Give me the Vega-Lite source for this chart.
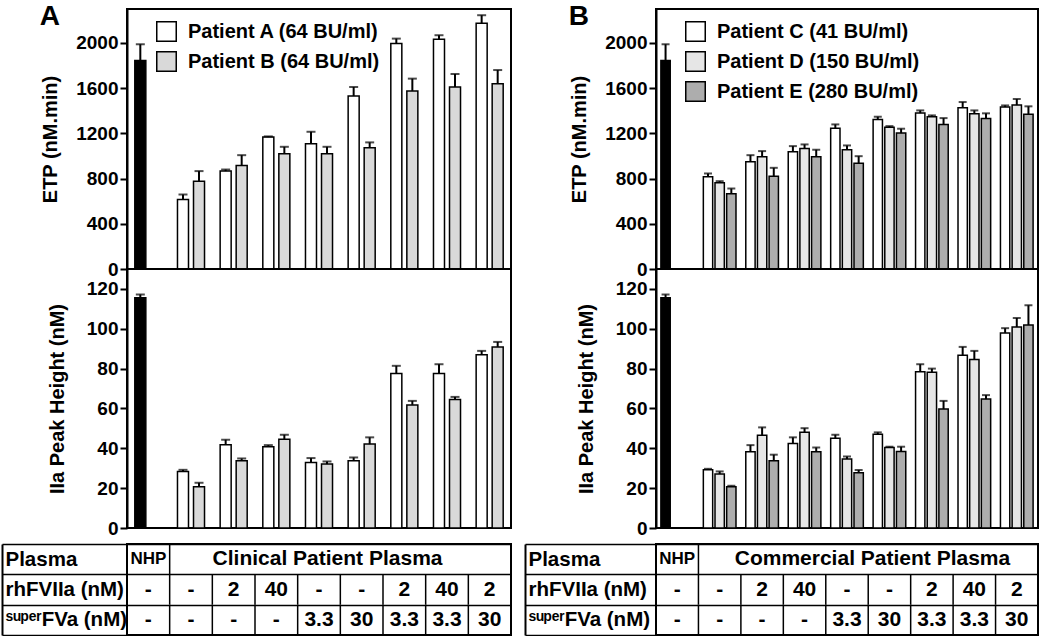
{
  "$schema": "https://vega.github.io/schema/vega-lite/v6.json",
  "padding": {"left": 0, "top": 2, "right": 0, "bottom": 0},
  "background": "white",
  "config": {
    "font": "Liberation Sans",
    "view": {"stroke": "black", "strokeWidth": 2},
    "axis": {"labelFont": "Liberation Sans", "labelFontSize": 19, "labelFontWeight": "bold", "labelColor": "black", "titleFont": "Liberation Sans", "titleFontSize": 20, "titleFontWeight": "bold", "titleColor": "black", "tickColor": "black", "tickSize": 7, "tickWidth": 2, "domainColor": "black", "domainWidth": 2, "labelPadding": 2, "grid": false},
    "legend": {"orient": "none", "symbolType": "square", "symbolSize": 380, "symbolStrokeColor": "black", "symbolStrokeWidth": 1.5, "labelFont": "Liberation Sans", "labelFontSize": 20, "labelFontWeight": "bold", "labelColor": "black", "labelOffset": 11, "rowPadding": 3, "padding": 0, "labelLimit": 400},
    "title": {"font": "Liberation Sans", "fontSize": 28, "fontWeight": "bold", "color": "black"}
  },
  "datasets": {
    "A": [
      {"cond": "NHP", "patient": "NHP", "etp": 1845, "etpHi": 1988, "ph": 115.6, "phHi": 117.2},
      {"cond": "-/-", "patient": "Patient A (64 BU/ml)", "etp": 614, "etpHi": 659, "ph": 28.4, "phHi": 29.2},
      {"cond": "-/-", "patient": "Patient B (64 BU/ml)", "etp": 777, "etpHi": 866, "ph": 20.7, "phHi": 22.7},
      {"cond": "2/-", "patient": "Patient A (64 BU/ml)", "etp": 866, "etpHi": 880, "ph": 41.8, "phHi": 44.3},
      {"cond": "2/-", "patient": "Patient B (64 BU/ml)", "etp": 916, "etpHi": 1007, "ph": 33.8, "phHi": 34.9},
      {"cond": "40/-", "patient": "Patient A (64 BU/ml)", "etp": 1167, "etpHi": 1173, "ph": 40.8, "phHi": 41.6},
      {"cond": "40/-", "patient": "Patient B (64 BU/ml)", "etp": 1019, "etpHi": 1081, "ph": 44.6, "phHi": 46.8},
      {"cond": "-/3.3", "patient": "Patient A (64 BU/ml)", "etp": 1108, "etpHi": 1214, "ph": 32.9, "phHi": 35.1},
      {"cond": "-/3.3", "patient": "Patient B (64 BU/ml)", "etp": 1019, "etpHi": 1081, "ph": 32.1, "phHi": 33.4},
      {"cond": "-/30", "patient": "Patient A (64 BU/ml)", "etp": 1530, "etpHi": 1610, "ph": 33.8, "phHi": 35.4},
      {"cond": "-/30", "patient": "Patient B (64 BU/ml)", "etp": 1072, "etpHi": 1120, "ph": 42.1, "phHi": 45.5},
      {"cond": "2/3.3", "patient": "Patient A (64 BU/ml)", "etp": 1994, "etpHi": 2038, "ph": 77.5, "phHi": 81.4},
      {"cond": "2/3.3", "patient": "Patient B (64 BU/ml)", "etp": 1575, "etpHi": 1684, "ph": 61.8, "phHi": 63.8},
      {"cond": "40/3.3", "patient": "Patient A (64 BU/ml)", "etp": 2032, "etpHi": 2068, "ph": 77.5, "phHi": 82.2},
      {"cond": "40/3.3", "patient": "Patient B (64 BU/ml)", "etp": 1610, "etpHi": 1725, "ph": 64.5, "phHi": 65.8},
      {"cond": "2/30", "patient": "Patient A (64 BU/ml)", "etp": 2174, "etpHi": 2245, "ph": 86.9, "phHi": 88.9},
      {"cond": "2/30", "patient": "Patient B (64 BU/ml)", "etp": 1639, "etpHi": 1760, "ph": 90.9, "phHi": 93.4}
    ],
    "B": [
      {"cond": "NHP", "patient": "NHP", "etp": 1845, "etpHi": 1988, "ph": 115.6, "phHi": 117.2},
      {"cond": "-/-", "patient": "Patient C (41 BU/ml)", "etp": 815, "etpHi": 845, "ph": 29.2, "phHi": 29.7},
      {"cond": "-/-", "patient": "Patient D (150 BU/ml)", "etp": 762, "etpHi": 777, "ph": 27.1, "phHi": 28.4},
      {"cond": "-/-", "patient": "Patient E (280 BU/ml)", "etp": 665, "etpHi": 712, "ph": 20.7, "phHi": 21.2},
      {"cond": "2/-", "patient": "Patient C (41 BU/ml)", "etp": 948, "etpHi": 1007, "ph": 38.3, "phHi": 41.6},
      {"cond": "2/-", "patient": "Patient D (150 BU/ml)", "etp": 993, "etpHi": 1043, "ph": 46.6, "phHi": 50.5},
      {"cond": "2/-", "patient": "Patient E (280 BU/ml)", "etp": 821, "etpHi": 895, "ph": 33.8, "phHi": 36.8},
      {"cond": "40/-", "patient": "Patient C (41 BU/ml)", "etp": 1037, "etpHi": 1087, "ph": 42.4, "phHi": 45.5},
      {"cond": "40/-", "patient": "Patient D (150 BU/ml)", "etp": 1066, "etpHi": 1102, "ph": 48.0, "phHi": 50.1},
      {"cond": "40/-", "patient": "Patient E (280 BU/ml)", "etp": 993, "etpHi": 1055, "ph": 38.3, "phHi": 40.4},
      {"cond": "-/3.3", "patient": "Patient C (41 BU/ml)", "etp": 1244, "etpHi": 1279, "ph": 45.1, "phHi": 46.8},
      {"cond": "-/3.3", "patient": "Patient D (150 BU/ml)", "etp": 1055, "etpHi": 1093, "ph": 34.6, "phHi": 35.9},
      {"cond": "-/3.3", "patient": "Patient E (280 BU/ml)", "etp": 936, "etpHi": 998, "ph": 27.7, "phHi": 29.1},
      {"cond": "-/30", "patient": "Patient C (41 BU/ml)", "etp": 1323, "etpHi": 1347, "ph": 47.1, "phHi": 48.0},
      {"cond": "-/30", "patient": "Patient D (150 BU/ml)", "etp": 1255, "etpHi": 1264, "ph": 40.4, "phHi": 40.8},
      {"cond": "-/30", "patient": "Patient E (280 BU/ml)", "etp": 1202, "etpHi": 1241, "ph": 38.4, "phHi": 40.8},
      {"cond": "2/3.3", "patient": "Patient C (41 BU/ml)", "etp": 1379, "etpHi": 1403, "ph": 78.4, "phHi": 82.2},
      {"cond": "2/3.3", "patient": "Patient D (150 BU/ml)", "etp": 1347, "etpHi": 1359, "ph": 78.2, "phHi": 80.0},
      {"cond": "2/3.3", "patient": "Patient E (280 BU/ml)", "etp": 1279, "etpHi": 1335, "ph": 59.7, "phHi": 63.8},
      {"cond": "40/3.3", "patient": "Patient C (41 BU/ml)", "etp": 1427, "etpHi": 1477, "ph": 86.7, "phHi": 90.9},
      {"cond": "40/3.3", "patient": "Patient D (150 BU/ml)", "etp": 1374, "etpHi": 1403, "ph": 84.6, "phHi": 88.9},
      {"cond": "40/3.3", "patient": "Patient E (280 BU/ml)", "etp": 1332, "etpHi": 1377, "ph": 64.7, "phHi": 66.7},
      {"cond": "2/30", "patient": "Patient C (41 BU/ml)", "etp": 1433, "etpHi": 1447, "ph": 97.9, "phHi": 100.3},
      {"cond": "2/30", "patient": "Patient D (150 BU/ml)", "etp": 1450, "etpHi": 1504, "ph": 100.9, "phHi": 105.4},
      {"cond": "2/30", "patient": "Patient E (280 BU/ml)", "etp": 1368, "etpHi": 1439, "ph": 101.9, "phHi": 111.8}
    ],
    "cellsA": [
      {"row": "Plasma", "cond": "NHP", "label": "NHP"},
      {"row": "Plasma", "cond": "-/-", "label": "Clinical Patient Plasma", "header": true},
      {"row": "rhFVIIa (nM)", "cond": "NHP", "label": "-"},
      {"row": "rhFVIIa (nM)", "cond": "-/-", "label": "-"},
      {"row": "rhFVIIa (nM)", "cond": "2/-", "label": "2"},
      {"row": "rhFVIIa (nM)", "cond": "40/-", "label": "40"},
      {"row": "rhFVIIa (nM)", "cond": "-/3.3", "label": "-"},
      {"row": "rhFVIIa (nM)", "cond": "-/30", "label": "-"},
      {"row": "rhFVIIa (nM)", "cond": "2/3.3", "label": "2"},
      {"row": "rhFVIIa (nM)", "cond": "40/3.3", "label": "40"},
      {"row": "rhFVIIa (nM)", "cond": "2/30", "label": "2"},
      {"row": "ˢᵘᵖᵉʳFVa (nM)", "cond": "NHP", "label": "-"},
      {"row": "ˢᵘᵖᵉʳFVa (nM)", "cond": "-/-", "label": "-"},
      {"row": "ˢᵘᵖᵉʳFVa (nM)", "cond": "2/-", "label": "-"},
      {"row": "ˢᵘᵖᵉʳFVa (nM)", "cond": "40/-", "label": "-"},
      {"row": "ˢᵘᵖᵉʳFVa (nM)", "cond": "-/3.3", "label": "3.3"},
      {"row": "ˢᵘᵖᵉʳFVa (nM)", "cond": "-/30", "label": "30"},
      {"row": "ˢᵘᵖᵉʳFVa (nM)", "cond": "2/3.3", "label": "3.3"},
      {"row": "ˢᵘᵖᵉʳFVa (nM)", "cond": "40/3.3", "label": "3.3"},
      {"row": "ˢᵘᵖᵉʳFVa (nM)", "cond": "2/30", "label": "30"}
    ],
    "cellsB": [
      {"row": "Plasma", "cond": "NHP", "label": "NHP"},
      {"row": "Plasma", "cond": "-/-", "label": "Commercial Patient Plasma", "header": true},
      {"row": "rhFVIIa (nM)", "cond": "NHP", "label": "-"},
      {"row": "rhFVIIa (nM)", "cond": "-/-", "label": "-"},
      {"row": "rhFVIIa (nM)", "cond": "2/-", "label": "2"},
      {"row": "rhFVIIa (nM)", "cond": "40/-", "label": "40"},
      {"row": "rhFVIIa (nM)", "cond": "-/3.3", "label": "-"},
      {"row": "rhFVIIa (nM)", "cond": "-/30", "label": "-"},
      {"row": "rhFVIIa (nM)", "cond": "2/3.3", "label": "2"},
      {"row": "rhFVIIa (nM)", "cond": "40/3.3", "label": "40"},
      {"row": "rhFVIIa (nM)", "cond": "2/30", "label": "2"},
      {"row": "ˢᵘᵖᵉʳFVa (nM)", "cond": "NHP", "label": "-"},
      {"row": "ˢᵘᵖᵉʳFVa (nM)", "cond": "-/-", "label": "-"},
      {"row": "ˢᵘᵖᵉʳFVa (nM)", "cond": "2/-", "label": "-"},
      {"row": "ˢᵘᵖᵉʳFVa (nM)", "cond": "40/-", "label": "-"},
      {"row": "ˢᵘᵖᵉʳFVa (nM)", "cond": "-/3.3", "label": "3.3"},
      {"row": "ˢᵘᵖᵉʳFVa (nM)", "cond": "-/30", "label": "30"},
      {"row": "ˢᵘᵖᵉʳFVa (nM)", "cond": "2/3.3", "label": "3.3"},
      {"row": "ˢᵘᵖᵉʳFVa (nM)", "cond": "40/3.3", "label": "3.3"},
      {"row": "ˢᵘᵖᵉʳFVa (nM)", "cond": "2/30", "label": "30"}
    ]
  },
  "hconcat": [
    {
      "vconcat": [
        {
          "vconcat": [
            {
              "width": 384, "height": 260,
              "title": {"text": "A", "anchor": "start", "frame": "bounds", "offset": -22, "dx": -1},
              "data": {"name": "A"},
              "encoding": {
                "x": {"field": "cond", "type": "nominal", "scale": {"domain": ["NHP","-/-","2/-","40/-","-/3.3","-/30","2/3.3","40/3.3","2/30"], "paddingInner": 0, "paddingOuter": 0}, "axis": null},
                "y": {"field": "etp", "type": "quantitative", "scale": {"domain": [0, 2300], "nice": false}, "axis": {"title": "ETP (nM.min)", "format": "d", "values": [0, 400, 800, 1200, 1600, 2000], "titlePadding": 15}}
              },
              "layer": [
                {"transform": [{"filter": "datum.patient !== 'NHP'"}], "mark": {"type": "bar", "stroke": "black", "strokeWidth": 1.5},
                 "encoding": {"xOffset": {"field": "patient", "type": "nominal", "scale": {"domain": ["Patient A (64 BU/ml)", "Patient B (64 BU/ml)"], "paddingInner": 0.3125, "paddingOuter": 0.4875}},
                   "color": {"field": "patient", "type": "nominal", "scale": {"domain": ["Patient A (64 BU/ml)", "Patient B (64 BU/ml)"], "range": ["#ffffff", "#d9d9d9"]}, "legend": {"title": null, "legendX": 29, "legendY": 12}}}},
                {"transform": [{"filter": "datum.patient === 'NHP'"}], "mark": {"type": "bar", "stroke": "black", "strokeWidth": 1.5, "fill": "black"},
                 "encoding": {"xOffset": {"datum": "Patient A (64 BU/ml)"}}},
                {"transform": [{"filter": "datum.patient !== 'NHP'"}], "mark": {"type": "rule", "strokeWidth": 2, "color": "black"},
                 "encoding": {"xOffset": {"field": "patient", "type": "nominal"}, "y2": {"field": "etpHi"}}},
                {"transform": [{"filter": "datum.patient !== 'NHP'"}], "mark": {"type": "tick", "thickness": 2, "size": 9, "color": "black"},
                 "encoding": {"xOffset": {"field": "patient", "type": "nominal"}, "y": {"field": "etpHi", "type": "quantitative", "title": "ETP (nM.min)"}}},
                {"transform": [{"filter": "datum.patient === 'NHP'"}], "mark": {"type": "rule", "strokeWidth": 2, "color": "black"},
                 "encoding": {"xOffset": {"datum": "Patient A (64 BU/ml)"}, "y2": {"field": "etpHi"}}},
                {"transform": [{"filter": "datum.patient === 'NHP'"}], "mark": {"type": "tick", "thickness": 2, "size": 9, "color": "black"},
                 "encoding": {"xOffset": {"datum": "Patient A (64 BU/ml)"}, "y": {"field": "etpHi", "type": "quantitative", "title": "ETP (nM.min)"}}}
              ]
            },
            {
              "width": 384, "height": 259,
              "data": {"name": "A"},
              "encoding": {
                "x": {"field": "cond", "type": "nominal", "scale": {"domain": ["NHP","-/-","2/-","40/-","-/3.3","-/30","2/3.3","40/3.3","2/30"], "paddingInner": 0, "paddingOuter": 0}, "axis": null},
                "y": {"field": "ph", "type": "quantitative", "scale": {"domain": [0, 130], "nice": false}, "axis": {"title": "IIa Peak Height (nM)", "format": "d", "values": [0, 20, 40, 60, 80, 100, 120], "titlePadding": 19}}
              },
              "layer": [
                {"transform": [{"filter": "datum.patient !== 'NHP'"}], "mark": {"type": "bar", "stroke": "black", "strokeWidth": 1.5},
                 "encoding": {"xOffset": {"field": "patient", "type": "nominal", "scale": {"domain": ["Patient A (64 BU/ml)", "Patient B (64 BU/ml)"], "paddingInner": 0.3125, "paddingOuter": 0.4875}},
                   "color": {"field": "patient", "type": "nominal", "scale": {"domain": ["Patient A (64 BU/ml)", "Patient B (64 BU/ml)"], "range": ["#ffffff", "#d9d9d9"]}, "legend": null}}},
                {"transform": [{"filter": "datum.patient === 'NHP'"}], "mark": {"type": "bar", "stroke": "black", "strokeWidth": 1.5, "fill": "black"},
                 "encoding": {"xOffset": {"datum": "Patient A (64 BU/ml)"}}},
                {"transform": [{"filter": "datum.patient !== 'NHP'"}], "mark": {"type": "rule", "strokeWidth": 2, "color": "black"},
                 "encoding": {"xOffset": {"field": "patient", "type": "nominal"}, "y2": {"field": "phHi"}}},
                {"transform": [{"filter": "datum.patient !== 'NHP'"}], "mark": {"type": "tick", "thickness": 2, "size": 9, "color": "black"},
                 "encoding": {"xOffset": {"field": "patient", "type": "nominal"}, "y": {"field": "phHi", "type": "quantitative", "title": "IIa Peak Height (nM)"}}},
                {"transform": [{"filter": "datum.patient === 'NHP'"}], "mark": {"type": "rule", "strokeWidth": 2, "color": "black"},
                 "encoding": {"xOffset": {"datum": "Patient A (64 BU/ml)"}, "y2": {"field": "phHi"}}},
                {"transform": [{"filter": "datum.patient === 'NHP'"}], "mark": {"type": "tick", "thickness": 2, "size": 9, "color": "black"},
                 "encoding": {"xOffset": {"datum": "Patient A (64 BU/ml)"}, "y": {"field": "phHi", "type": "quantitative", "title": "IIa Peak Height (nM)"}}}
              ]
            }
          ],
          "spacing": 0,
          "bounds": "flush",
          "resolve": {"scale": {"x": "independent", "y": "independent", "color": "independent", "xOffset": "independent"}, "axis": {"x": "independent", "y": "independent"}, "legend": {"color": "independent"}}
        },
        {
          "width": 384, "height": 91,
          "data": {"name": "cellsA"},
          "encoding": {
            "x": {"field": "cond", "type": "nominal", "scale": {"domain": ["NHP","-/-","2/-","40/-","-/3.3","-/30","2/3.3","40/3.3","2/30"], "paddingInner": 0, "paddingOuter": 0}, "axis": null},
            "y": {"field": "row", "type": "nominal", "scale": {"domain": ["Plasma", "rhFVIIa (nM)", "ˢᵘᵖᵉʳFVa (nM)"], "paddingInner": 0, "paddingOuter": 0},
                  "axis": {"title": null, "offset": 125, "tickSize": -125, "labelPadding": 122, "labelAlign": "left", "tickBand": "extent", "grid": true, "gridColor": "black", "gridWidth": 1.5, "gridOpacity": 1, "tickWidth": 1.5, "labelFontSize": 20.5, "labelBaseline": "middle"}}
          },
          "layer": [
            {"mark": {"type": "rule", "strokeWidth": 1.5, "color": "black"},
             "encoding": {"x": {"field": "cond", "type": "nominal", "bandPosition": 0}, "y": {"field": "row", "type": "nominal", "bandPosition": 0}, "y2": {"field": "row", "bandPosition": 1}}},
            {"transform": [{"filter": "datum.row !== 'Plasma'"}], "mark": {"type": "text", "font": "Liberation Sans", "fontSize": 21, "fontWeight": "bold", "color": "black", "baseline": "middle"},
             "encoding": {"text": {"field": "label"}}},
            {"transform": [{"filter": "datum.row === 'Plasma' && !datum.header"}], "mark": {"type": "text", "font": "Liberation Sans", "fontSize": 17, "fontWeight": "bold", "color": "black", "baseline": "middle"},
             "encoding": {"text": {"field": "label"}}},
            {"transform": [{"filter": "datum.header"}], "mark": {"type": "text", "font": "Liberation Sans", "fontSize": 21, "fontWeight": "bold", "color": "black", "baseline": "middle"},
             "encoding": {"x": {"field": "cond", "type": "nominal", "bandPosition": 3.7}, "text": {"field": "label"}}}
          ]
        }
      ],
      "spacing": -6,
      "bounds": "full",
      "resolve": {"scale": {"x": "independent", "y": "independent", "color": "independent", "xOffset": "independent"}, "axis": {"x": "independent", "y": "independent"}, "legend": {"color": "independent"}}
    },
    {
      "vconcat": [
        {
          "vconcat": [
            {
              "width": 382, "height": 260,
              "title": {"text": "B", "anchor": "start", "frame": "bounds", "offset": -22, "dx": -1},
              "data": {"name": "B"},
              "encoding": {
                "x": {"field": "cond", "type": "nominal", "scale": {"domain": ["NHP","-/-","2/-","40/-","-/3.3","-/30","2/3.3","40/3.3","2/30"], "paddingInner": 0, "paddingOuter": 0}, "axis": null},
                "y": {"field": "etp", "type": "quantitative", "scale": {"domain": [0, 2300], "nice": false}, "axis": {"title": "ETP (nM.min)", "format": "d", "values": [0, 400, 800, 1200, 1600, 2000], "titlePadding": 15}}
              },
              "layer": [
                {"transform": [{"filter": "datum.patient !== 'NHP'"}], "mark": {"type": "bar", "stroke": "black", "strokeWidth": 1.5},
                 "encoding": {"xOffset": {"field": "patient", "type": "nominal", "scale": {"domain": ["Patient C (41 BU/ml)", "Patient D (150 BU/ml)", "Patient E (280 BU/ml)"], "paddingInner": 0.2, "paddingOuter": 0.42}},
                   "color": {"field": "patient", "type": "nominal", "scale": {"domain": ["Patient C (41 BU/ml)", "Patient D (150 BU/ml)", "Patient E (280 BU/ml)"], "range": ["#ffffff", "#e6e6e6", "#adadad"]}, "legend": {"title": null, "legendX": 29, "legendY": 12}}}},
                {"transform": [{"filter": "datum.patient === 'NHP'"}], "mark": {"type": "bar", "stroke": "black", "strokeWidth": 1.5, "fill": "black"},
                 "encoding": {"xOffset": {"datum": "Patient C (41 BU/ml)"}}},
                {"transform": [{"filter": "datum.patient !== 'NHP'"}], "mark": {"type": "rule", "strokeWidth": 2, "color": "black"},
                 "encoding": {"xOffset": {"field": "patient", "type": "nominal"}, "y2": {"field": "etpHi"}}},
                {"transform": [{"filter": "datum.patient !== 'NHP'"}], "mark": {"type": "tick", "thickness": 2, "size": 8, "color": "black"},
                 "encoding": {"xOffset": {"field": "patient", "type": "nominal"}, "y": {"field": "etpHi", "type": "quantitative", "title": "ETP (nM.min)"}}},
                {"transform": [{"filter": "datum.patient === 'NHP'"}], "mark": {"type": "rule", "strokeWidth": 2, "color": "black"},
                 "encoding": {"xOffset": {"datum": "Patient C (41 BU/ml)"}, "y2": {"field": "etpHi"}}},
                {"transform": [{"filter": "datum.patient === 'NHP'"}], "mark": {"type": "tick", "thickness": 2, "size": 8, "color": "black"},
                 "encoding": {"xOffset": {"datum": "Patient C (41 BU/ml)"}, "y": {"field": "etpHi", "type": "quantitative", "title": "ETP (nM.min)"}}}
              ]
            },
            {
              "width": 382, "height": 259,
              "data": {"name": "B"},
              "encoding": {
                "x": {"field": "cond", "type": "nominal", "scale": {"domain": ["NHP","-/-","2/-","40/-","-/3.3","-/30","2/3.3","40/3.3","2/30"], "paddingInner": 0, "paddingOuter": 0}, "axis": null},
                "y": {"field": "ph", "type": "quantitative", "scale": {"domain": [0, 130], "nice": false}, "axis": {"title": "IIa Peak Height (nM)", "format": "d", "values": [0, 20, 40, 60, 80, 100, 120], "titlePadding": 19}}
              },
              "layer": [
                {"transform": [{"filter": "datum.patient !== 'NHP'"}], "mark": {"type": "bar", "stroke": "black", "strokeWidth": 1.5},
                 "encoding": {"xOffset": {"field": "patient", "type": "nominal", "scale": {"domain": ["Patient C (41 BU/ml)", "Patient D (150 BU/ml)", "Patient E (280 BU/ml)"], "paddingInner": 0.2, "paddingOuter": 0.42}},
                   "color": {"field": "patient", "type": "nominal", "scale": {"domain": ["Patient C (41 BU/ml)", "Patient D (150 BU/ml)", "Patient E (280 BU/ml)"], "range": ["#ffffff", "#e6e6e6", "#adadad"]}, "legend": null}}},
                {"transform": [{"filter": "datum.patient === 'NHP'"}], "mark": {"type": "bar", "stroke": "black", "strokeWidth": 1.5, "fill": "black"},
                 "encoding": {"xOffset": {"datum": "Patient C (41 BU/ml)"}}},
                {"transform": [{"filter": "datum.patient !== 'NHP'"}], "mark": {"type": "rule", "strokeWidth": 2, "color": "black"},
                 "encoding": {"xOffset": {"field": "patient", "type": "nominal"}, "y2": {"field": "phHi"}}},
                {"transform": [{"filter": "datum.patient !== 'NHP'"}], "mark": {"type": "tick", "thickness": 2, "size": 8, "color": "black"},
                 "encoding": {"xOffset": {"field": "patient", "type": "nominal"}, "y": {"field": "phHi", "type": "quantitative", "title": "IIa Peak Height (nM)"}}},
                {"transform": [{"filter": "datum.patient === 'NHP'"}], "mark": {"type": "rule", "strokeWidth": 2, "color": "black"},
                 "encoding": {"xOffset": {"datum": "Patient C (41 BU/ml)"}, "y2": {"field": "phHi"}}},
                {"transform": [{"filter": "datum.patient === 'NHP'"}], "mark": {"type": "tick", "thickness": 2, "size": 8, "color": "black"},
                 "encoding": {"xOffset": {"datum": "Patient C (41 BU/ml)"}, "y": {"field": "phHi", "type": "quantitative", "title": "IIa Peak Height (nM)"}}}
              ]
            }
          ],
          "spacing": 0,
          "bounds": "flush",
          "resolve": {"scale": {"x": "independent", "y": "independent", "color": "independent", "xOffset": "independent"}, "axis": {"x": "independent", "y": "independent"}, "legend": {"color": "independent"}}
        },
        {
          "width": 382, "height": 91,
          "data": {"name": "cellsB"},
          "encoding": {
            "x": {"field": "cond", "type": "nominal", "scale": {"domain": ["NHP","-/-","2/-","40/-","-/3.3","-/30","2/3.3","40/3.3","2/30"], "paddingInner": 0, "paddingOuter": 0}, "axis": null},
            "y": {"field": "row", "type": "nominal", "scale": {"domain": ["Plasma", "rhFVIIa (nM)", "ˢᵘᵖᵉʳFVa (nM)"], "paddingInner": 0, "paddingOuter": 0},
                  "axis": {"title": null, "offset": 131, "tickSize": -131, "labelPadding": 128, "labelAlign": "left", "tickBand": "extent", "grid": true, "gridColor": "black", "gridWidth": 1.5, "gridOpacity": 1, "tickWidth": 1.5, "labelFontSize": 20.5, "labelBaseline": "middle"}}
          },
          "layer": [
            {"mark": {"type": "rule", "strokeWidth": 1.5, "color": "black"},
             "encoding": {"x": {"field": "cond", "type": "nominal", "bandPosition": 0}, "y": {"field": "row", "type": "nominal", "bandPosition": 0}, "y2": {"field": "row", "bandPosition": 1}}},
            {"transform": [{"filter": "datum.row !== 'Plasma'"}], "mark": {"type": "text", "font": "Liberation Sans", "fontSize": 21, "fontWeight": "bold", "color": "black", "baseline": "middle"},
             "encoding": {"text": {"field": "label"}}},
            {"transform": [{"filter": "datum.row === 'Plasma' && !datum.header"}], "mark": {"type": "text", "font": "Liberation Sans", "fontSize": 17, "fontWeight": "bold", "color": "black", "baseline": "middle"},
             "encoding": {"text": {"field": "label"}}},
            {"transform": [{"filter": "datum.header"}], "mark": {"type": "text", "font": "Liberation Sans", "fontSize": 21, "fontWeight": "bold", "color": "black", "baseline": "middle"},
             "encoding": {"x": {"field": "cond", "type": "nominal", "bandPosition": 4.1}, "text": {"field": "label"}}}
          ]
        }
      ],
      "spacing": -6,
      "bounds": "full",
      "resolve": {"scale": {"x": "independent", "y": "independent", "color": "independent", "xOffset": "independent"}, "axis": {"x": "independent", "y": "independent"}, "legend": {"color": "independent"}}
    }
  ],
  "spacing": 11,
  "bounds": "full",
  "resolve": {"scale": {"x": "independent", "y": "independent", "color": "independent", "xOffset": "independent"}, "axis": {"x": "independent", "y": "independent"}, "legend": {"color": "independent"}}
}
